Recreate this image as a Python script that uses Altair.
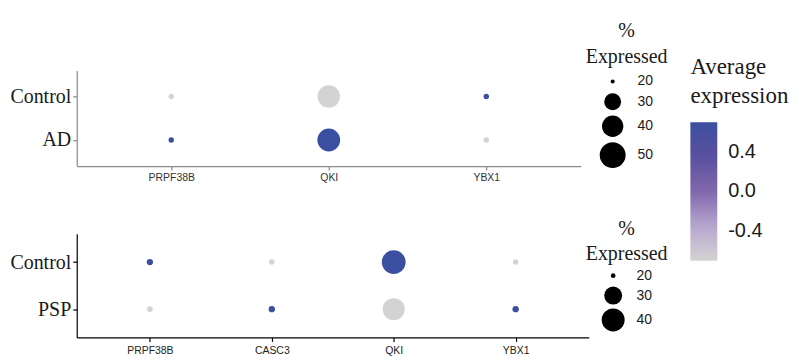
import altair as alt
import pandas as pd

# ---- data ----
top_genes = ["PRPF38B", "QKI", "YBX1"]
top_groups = ["Control", "AD"]
top_pct_control = [20.5, 42.0, 20.5]
top_pct_ad = [20.5, 43.0, 20.5]
top_avg_control = [-0.707, -0.707, 0.707]
top_avg_ad = [0.707, 0.707, -0.707]

bot_genes = ["PRPF38B", "CASC3", "QKI", "YBX1"]
bot_groups = ["Control", "PSP"]
bot_pct_control = [20.6, 20.3, 42.0, 20.3]
bot_pct_psp = [20.3, 20.6, 38.0, 20.6]
bot_avg_control = [0.707, -0.707, 0.707, -0.707]
bot_avg_psp = [-0.707, 0.707, -0.707, 0.707]

top_size_values = [20, 30, 40, 50]
bot_size_values = [20, 30, 40]
color_values = [-0.4, 0.0, 0.4]

def frame(genes, groups, pcts, avgs):
    rows = []
    for g, p_list, a_list in zip(groups, pcts, avgs):
        for gene, p, a in zip(genes, p_list, a_list):
            rows.append({"gene": gene, "group": g, "pct": p, "avg": a})
    return pd.DataFrame(rows)

top_df = frame(top_genes, top_groups, [top_pct_control, top_pct_ad], [top_avg_control, top_avg_ad])
bot_df = frame(bot_genes, bot_groups, [bot_pct_control, bot_pct_psp], [bot_avg_control, bot_avg_psp])

SERIF = "Liberation Serif"
SANS = "Liberation Sans"

color_scale = alt.Scale(
    domain=[-0.7071, -0.35, 0.0, 0.35, 0.7071],
    range=["#D3D3D3", "#B7A6CF", "#8068AD", "#5B4F9F", "#3A4FA0"],
    interpolate="lab",
)
color_legend = alt.Legend(
    title=["Average", "expression"], titleFont=SERIF, titleFontSize=23, titleFontWeight="normal",
    titleColor="#1a1a1a", titleLineHeight=29, titlePadding=14,
    direction="vertical", gradientLength=139, gradientThickness=27, gradientStrokeWidth=0,
    labelFont=SANS, labelFontSize=20, labelColor="#1a1a1a", labelOffset=11,
    values=color_values,
    labelExpr="datum.value < 0 ? '-' + format(-datum.value, '.1f') : format(datum.value, '.1f')",
    orient="none", legendX=616, legendY=-14, padding=0,
)

def size_legend(vals, ly, lh, tpad, rpad):
    return alt.Legend(
        title=["%", "Expressed"], titleFont=SERIF, titleFontSize=20, titleFontWeight="normal",
        titleColor="#1a1a1a", titleLineHeight=lh, titleAnchor="middle", titleAlign="center",
        titlePadding=tpad,
        labelFont=SANS, labelFontSize=14, labelColor="#1a1a1a", labelOffset=12,
        symbolFillColor="black", symbolStrokeWidth=0, symbolOpacity=1, symbolType="circle",
        values=vals, rowPadding=rpad, orient="none", legendX=511, legendY=ly, padding=0,
    )

def panel(df, genes, groups, size_range, legend, w, h, axis_color, label_color, xpad):
    return alt.Chart(df).mark_circle(opacity=1).encode(
        x=alt.X("gene:N", sort=genes, title=None,
                scale=alt.Scale(type="point", padding=0.6),
                axis=alt.Axis(labelFont=SANS, labelFontSize=10.5, labelColor=label_color,
                              domainColor=axis_color, tickColor=axis_color, tickSize=4,
                              labelPadding=xpad, labelAngle=0, grid=False)),
        y=alt.Y("group:N", sort=groups, title=None,
                scale=alt.Scale(type="point", padding=0.6),
                axis=alt.Axis(labelFont=SERIF, labelFontSize=20, labelColor="#1a1a1a",
                              domainColor=axis_color, tickColor=axis_color, tickSize=4,
                              labelPadding=2, grid=False)),
        size=alt.Size("pct:Q", scale=alt.Scale(domain=legend.values, range=size_range),
                      legend=legend),
        color=alt.Color("avg:Q", scale=color_scale, legend=color_legend),
    ).properties(width=w, height=h)

top = panel(top_df, top_genes, top_groups, [16, 289, 458, 676],
            size_legend(top_size_values, -50, 27, 7, 5),
            506, 96, "#8a8a8a", "#333333", 2)
bot = panel(bot_df, bot_genes, bot_groups, [22, 324, 529],
            size_legend(bot_size_values, -15, 25, 5, 4),
            514, 104, "#000000", "#222222", 4)

chart = alt.vconcat(top, bot, spacing=68, bounds="flush").resolve_scale(
    size="independent"
).resolve_legend(size="independent").configure_view(stroke=None).configure_axis(
    domainWidth=1.2, tickWidth=1.2
).properties(padding={"left": 1, "top": 12, "right": 0, "bottom": 0})

chart.save("out.html", embed_options={"renderer": "svg", "actions": False})
